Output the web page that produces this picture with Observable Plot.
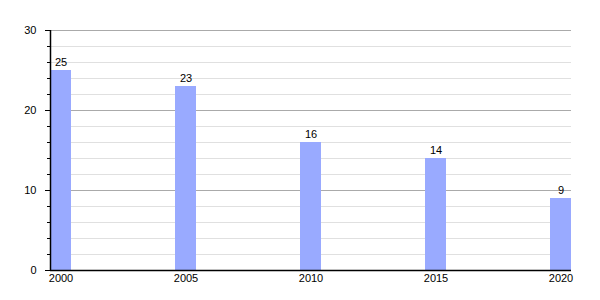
<!DOCTYPE html>
<html><head><meta charset="utf-8">
<script src="https://cdn.jsdelivr.net/npm/d3@7"></script>
<script src="https://cdn.jsdelivr.net/npm/@observablehq/plot@0.6"></script>
<style>body{margin:0;background:#fff;}</style>
</head><body><div id="chart"></div>
<script>
const years = [2000, 2005, 2010, 2015, 2020];
const values = [25, 23, 16, 14, 9];
const majorTicks = [0, 10, 20, 30];
const minorTicks = [2, 4, 6, 8, 12, 14, 16, 18, 22, 24, 26, 28];

const data = years.map((y, i) => ({year: y, value: values[i]}));
const bw = 0.84;
const font = "Liberation Sans, Arial, sans-serif";

const chart = Plot.plot({
  width: 600, height: 300,
  marginLeft: 50, marginRight: 29, marginTop: 30, marginBottom: 30,
  style: {fontFamily: font, fontSize: "11px", color: "#000", background: "#fff"},
  x: {type: "linear", domain: [2000, 2020 + bw], label: null},
  y: {type: "linear", domain: [0, 30], label: null},
  marks: [
    Plot.ruleY(minorTicks, {stroke: "#e0e0e0", strokeWidth: 1}),
    Plot.ruleY(majorTicks.filter(d => d > 0), {stroke: "#aaaaaa", strokeWidth: 1}),
    Plot.rectY(data, {x1: "year", x2: d => d.year + bw, y1: 0, y2: "value", fill: "#99aaff"}),
    Plot.text(data, {x: d => d.year + bw / 2, y: "value", text: d => String(d.value), dy: -8, fontSize: 11, fill: "#000"}),
    Plot.ruleY([0], {stroke: "#000", strokeWidth: 1.5}),
    Plot.ruleX([2000], {y1: 0, y2: 30, stroke: "#000", strokeWidth: 1.5}),
    Plot.axisY({ticks: majorTicks, tickSize: 5, tickPadding: 9, fontSize: 11, anchor: "left", label: null, fill: "#000", tickFormat: d => String(d)}),
    Plot.axisY({ticks: minorTicks, tickSize: 3, tickFormat: () => "", anchor: "left", label: null}),
    Plot.axisX({ticks: years.map(y => y + bw / 2), tickSize: 0, tickPadding: 4, label: null, fill: "#000", tickFormat: d => String(Math.round(d - bw / 2)), fontSize: 11})
  ]
});
document.getElementById("chart").appendChild(chart);
</script></body></html>
